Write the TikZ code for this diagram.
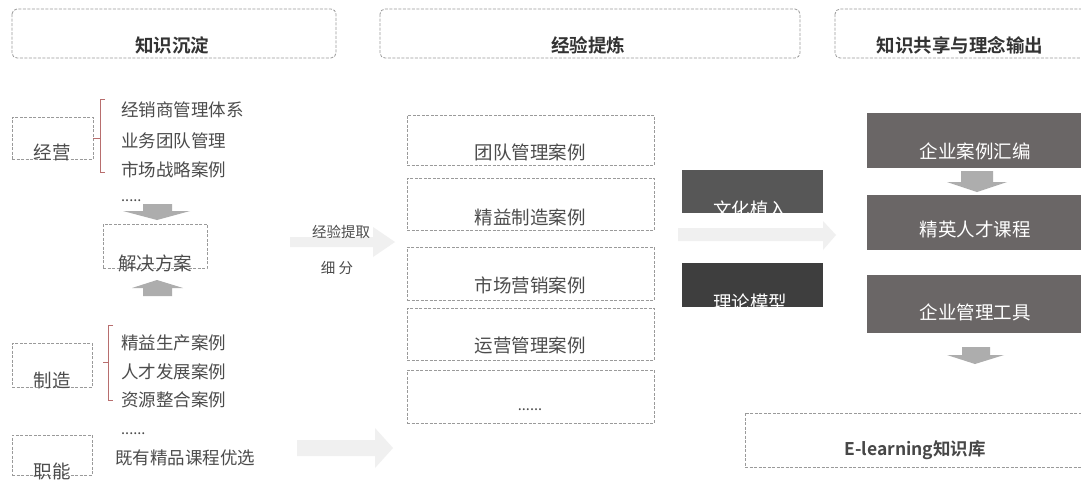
\documentclass[tikz,border=0pt]{standalone}
\usepackage{fontspec}
\setmainfont{Noto Sans CJK SC}
\newfontfamily\cjkbold{Noto Sans CJK SC Bold}
\usetikzlibrary{positioning}
\definecolor{dashgray}{HTML}{9A9A9A}
\definecolor{txtgray}{HTML}{4C4C4C}
\definecolor{hdrgray}{HTML}{333333}
\definecolor{darkA}{HTML}{575757}
\definecolor{darkB}{HTML}{3E3E3E}
\definecolor{darkC}{HTML}{6A6666}
\definecolor{arrowgray}{HTML}{ADADAD}
\definecolor{lightarrow}{HTML}{F0F0F0}
\definecolor{brack}{HTML}{B86E6E}
\tikzset{
  dbox/.style={draw=dashgray, dash pattern=on 3pt off 1.5pt, line width=0.8pt, inner sep=0pt},
  hbox/.style={dbox, rounded corners=5pt},
  darkbox/.style={inner sep=0pt},
  hdr/.style={inner sep=0pt, font=\cjkbold\fontsize{18.5}{20}\selectfont, text=hdrgray},
  item/.style={inner sep=0pt, anchor=west, font=\fontsize{17.5}{20}\selectfont, text=txtgray},
  lbl/.style={inner sep=0pt, font=\fontsize{18.5}{20}\selectfont, text=txtgray},
  wlbl/.style={inner sep=0pt, font=\fontsize{18.5}{20}\selectfont, text=white},
  small/.style={inner sep=0pt, font=\fontsize{14.5}{16}\selectfont, text=txtgray},
  garrow/.style={fill=arrowgray},
  larrow/.style={fill=lightarrow},
  brk/.style={draw=brack, line width=1pt},
}
\begin{document}
\begin{tikzpicture}[x=1pt,y=-1pt]
\clip (0,0) rectangle (1081,485);
\fill[white] (0,0) rectangle (1081,485);

% header boxes
\draw[hbox] (12,9) rectangle (336,58);
\node[hdr] (h1) at (172,45) {知识沉淀};
\draw[hbox] (380,9) rectangle (800,58);
\node[hdr] (h2) at (588,45) {经验提炼};
\draw[hbox] (835,9) rectangle (1100,58);
\node[hdr] (h3) at (960,45) {知识共享与理念输出};

% light block arrows
\fill[larrow] (290,237) -- (373,237) -- (373,227) -- (395,242) -- (373,257) -- (373,247) -- (290,247) -- cycle;
\fill[larrow] (297,440) -- (375,440) -- (375,428) -- (393,448) -- (375,468) -- (375,456) -- (297,456) -- cycle;
\fill[larrow] (678,228) -- (823,228) -- (823,221) -- (836,235) -- (823,250) -- (823,241) -- (678,241) -- cycle;

% left column: 经营
\node[dbox, minimum width=81pt, minimum height=42pt] (jy) at (52.5,138) {};
\node[lbl] (jyl) at (52,152) {经营};
\draw[brk] (105,99) -- (100,99) -- (100,172) -- (105,172);
\draw[brk] (jy.east) -- (100,138);
\node[item] (i1) at (121,110) {经销商管理体系};
\node[item] (i2) at (121,141) {业务团队管理};
\node[item] (i3) at (121,170) {市场战略案例};

% 解决方案
\node[small, anchor=west] (dots1) at (121,201) {.....};
\fill[garrow] (143,204) -- (172,204) -- (172,211) -- (190,211) -- (157,220) -- (123,211) -- (143,211) -- cycle;
\node[dbox, minimum width=104pt, minimum height=44pt] (sol) at (155,246) {};
\node[lbl] (soll) at (155,263) {解决方案};
\fill[garrow] (157,280) -- (183,288) -- (172,288) -- (172,296) -- (143,296) -- (143,288) -- (132,288) -- cycle;

% 制造
\node[dbox, minimum width=80pt, minimum height=44pt] (zz) at (52,365) {};
\node[lbl] (zzl) at (52,380) {制造};
\draw[brk] (113,325) -- (108,325) -- (108,400) -- (113,400);
\draw[brk] (103,362) -- (108,362);
\node[item] (i4) at (121,343) {精益生产案例};
\node[item] (i5) at (121,372) {人才发展案例};
\node[item] (i6) at (121,400) {资源整合案例};

% 职能
\node[dbox, minimum width=80pt, minimum height=40pt] (zn) at (52,455) {};
\node[lbl] (znl) at (52,471) {职能};
\node[small, anchor=west] (dots2) at (121,434) {......};
\node[item] (i7) at (115,458) {既有精品课程优选};

% extraction labels
\node[small] (tq) at (341,232) {经验提取};
\node[small] (xf) at (337,268) {细\ 分};

% middle column
\node[dbox, minimum width=247pt, minimum height=50pt] (m1) at (530.5,140) {};
\node[lbl] (m1l) at (530,152) {团队管理案例};
\node[dbox, minimum width=247pt, minimum height=52pt] (m2) at (530.5,204) {};
\node[lbl] (m2l) at (530,217) {精益制造案例};
\node[dbox, minimum width=247pt, minimum height=53pt] (m3) at (530.5,273.5) {};
\node[lbl] (m3l) at (530,285) {市场营销案例};
\node[dbox, minimum width=247pt, minimum height=52pt] (m4) at (530.5,334) {};
\node[lbl] (m4l) at (530,345) {运营管理案例};
\node[dbox, minimum width=247pt, minimum height=53pt] (m5) at (530.5,396.5) {};
\node[small] (m5l) at (530,410) {......};

% dark middle boxes
\node[darkbox, fill=darkA, minimum width=141pt, minimum height=43pt] (wh) at (752.5,191.5) {};
\node[wlbl] (whl) at (750,209) {文化植入};
\node[darkbox, fill=darkB, minimum width=141pt, minimum height=44pt] (ll) at (752.5,285) {};
\node[wlbl] (lll) at (750,302) {理论模型};

% right column
\node[darkbox, fill=darkC, minimum width=230pt, minimum height=55pt] (r1) at (982,140.5) {};
\node[wlbl] (r1l) at (975,151) {企业案例汇编};
\fill[garrow] (961,171) -- (993,171) -- (993,182) -- (1007,182) -- (977,192) -- (947,182) -- (961,182) -- cycle;
\node[darkbox, fill=darkC, minimum width=230pt, minimum height=55pt] (r2) at (982,222.5) {};
\node[wlbl] (r2l) at (975,229) {精英人才课程};
\node[darkbox, fill=darkC, minimum width=230pt, minimum height=58pt] (r3) at (982,304) {};
\node[wlbl] (r3l) at (975,312) {企业管理工具};
\fill[garrow] (962,347) -- (990,347) -- (990,355) -- (1004,355) -- (975,364) -- (947,355) -- (962,355) -- cycle;

% E-learning
\draw[dbox] (745,413) rectangle (1100,467);
\node[inner sep=0pt, font=\cjkbold\fontsize{17.5}{20}\selectfont, text=hdrgray!90] (el) at (915,450) {E-learning知识库};
\end{tikzpicture}
\end{document}
